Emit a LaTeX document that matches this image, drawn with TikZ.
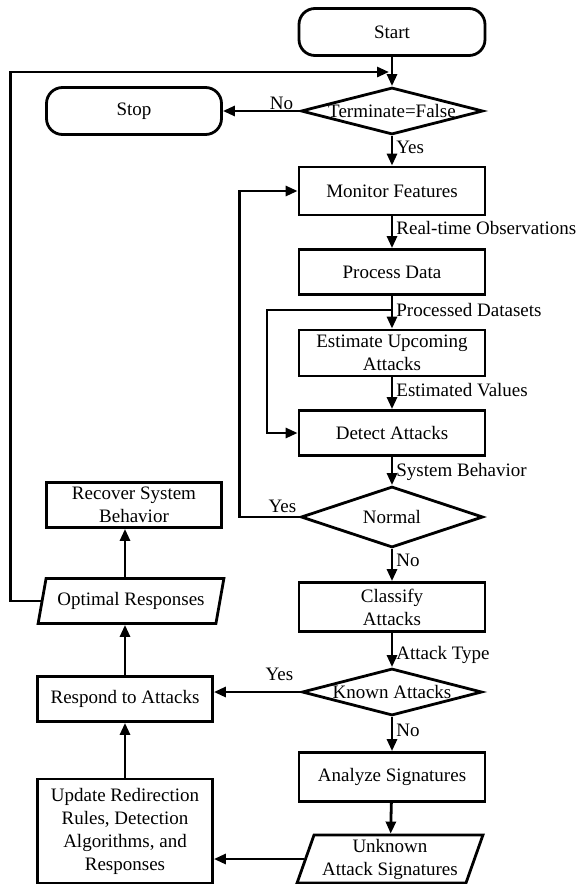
\documentclass[tikz,border=0pt]{standalone}
\usepackage{fontspec}
\setmainfont{Liberation Serif}
\usetikzlibrary{shapes.geometric,arrows.meta}
\newcommand{\dtext}[1]{\makebox[0pt]{#1}}

\begin{document}
\begin{tikzpicture}[x=1pt,y=-1pt,
    font=\fontsize{19}{23}\selectfont,
    line width=2.8pt,
    >={Triangle[length=12pt,width=10pt]},
    block/.style={draw,rectangle,minimum width=186pt,minimum height=46pt,inner sep=2pt,align=center},
    terminal/.style={draw,rectangle,rounded corners=16pt,minimum width=186pt,minimum height=47pt},
    decision/.style={draw,diamond,minimum width=182pt,minimum height=47pt,inner sep=0pt,shape aspect=3.8},
    iobox/.style={draw,trapezium,trapezium left angle=70,trapezium right angle=110,
      trapezium stretches=true,minimum width=186pt,minimum height=46pt,inner sep=1pt,align=center},
    lab/.style={right,inner sep=3pt}]
      \useasboundingbox (0,0) rectangle (577,884);
      \draw
        (392,32) node[terminal] (start){Start}
        (392,111) node[decision] (cond){\dtext{Terminate=False}}
        (134,111) node[terminal,minimum width=175pt] (stop){Stop}
        (392,191) node[block,minimum height=48pt] (monitor){Monitor Features}
        (392,272) node[block,minimum height=45pt] (process){Process Data}
        (392,353) node[block] (estimate){Estimate Upcoming\\Attacks}
        (392,433) node[block,minimum height=45pt] (detect){Detect Attacks}
        (392,517) node[decision,minimum height=61pt] (normal){\dtext{Normal}}
        (392,607) node[block,minimum height=49pt] (classify){Classify\\Attacks}
        (392,692) node[decision,minimum width=180pt] (known){\dtext{Known Attacks}}
        (392,777) node[block,minimum height=49pt] (analyze){Analyze Signatures}
        (390,859) node[iobox,minimum height=48pt] (unknown){Unknown\\Attack Signatures}
        (125,831) node[block,minimum width=175pt,minimum height=104pt] (update){Update Redirection\\Rules, Detection\\Algorithms, and\\Responses}
        (125,699) node[block,minimum width=175pt,minimum height=45pt] (respond){Respond to Attacks}
        (131,601) node[iobox,minimum height=45pt] (optimal){Optimal Responses}
        (134,505) node[block,minimum width=175pt,minimum height=45pt] (recover){Recover System\\Behavior};
      \coordinate (split) at (392,310);
      \coordinate (merge) at (389,72);
      \begin{scope}[->]
        \draw (start) to (cond);
        \draw (cond) to node[pos=0,anchor=base east,xshift=-5pt,yshift=2pt,inner sep=0pt]{No} (stop);
        \draw (cond) to node[lab,pos=0.375]{Yes} (monitor);
        \draw (monitor) to node[lab,pos=0.37]{Real-time Observations} (process);
        \draw (process) to node[lab,pos=0.43]{Processed Datasets} (estimate);
        \draw (split) -- ++(-125,0) |- (detect.west);
        \draw (estimate) to node[lab,pos=0.4]{Estimated Values} (detect);
        \draw (detect) to node[lab,pos=0.55]{System Behavior} (normal);
        \draw (normal.west) -- ++(-60,0) |- (monitor.west);
        \draw (normal) to node[lab,pos=0.37]{No} (classify);
        \draw (classify) to node[lab,pos=0.65]{Attack Type} (known);
        \draw (known.west) to (known.west -| respond.east);
        \draw (known) to node[lab,pos=0.4]{No} (analyze);
        \draw (analyze) to (unknown);
        \draw (unknown.west) to (unknown.west -| update.east);
        \draw (update.north) to (respond.south);
        \draw (respond.north) to (respond.north |- optimal.south);
        \draw (respond.north |- optimal.north) to (respond.north |- recover.south);
        \draw (optimal.west) -- ++(-30,0) |- (merge);
      \end{scope}
      \node[anchor=base east,inner sep=0pt] (yes1) at ([xshift=-2pt,yshift=5pt]normal.west) {Yes};
      \node[anchor=base east,inner sep=0pt] (yes2) at ([xshift=-6pt,yshift=12pt]known.west) {Yes};
    \end{tikzpicture}
\end{document}
